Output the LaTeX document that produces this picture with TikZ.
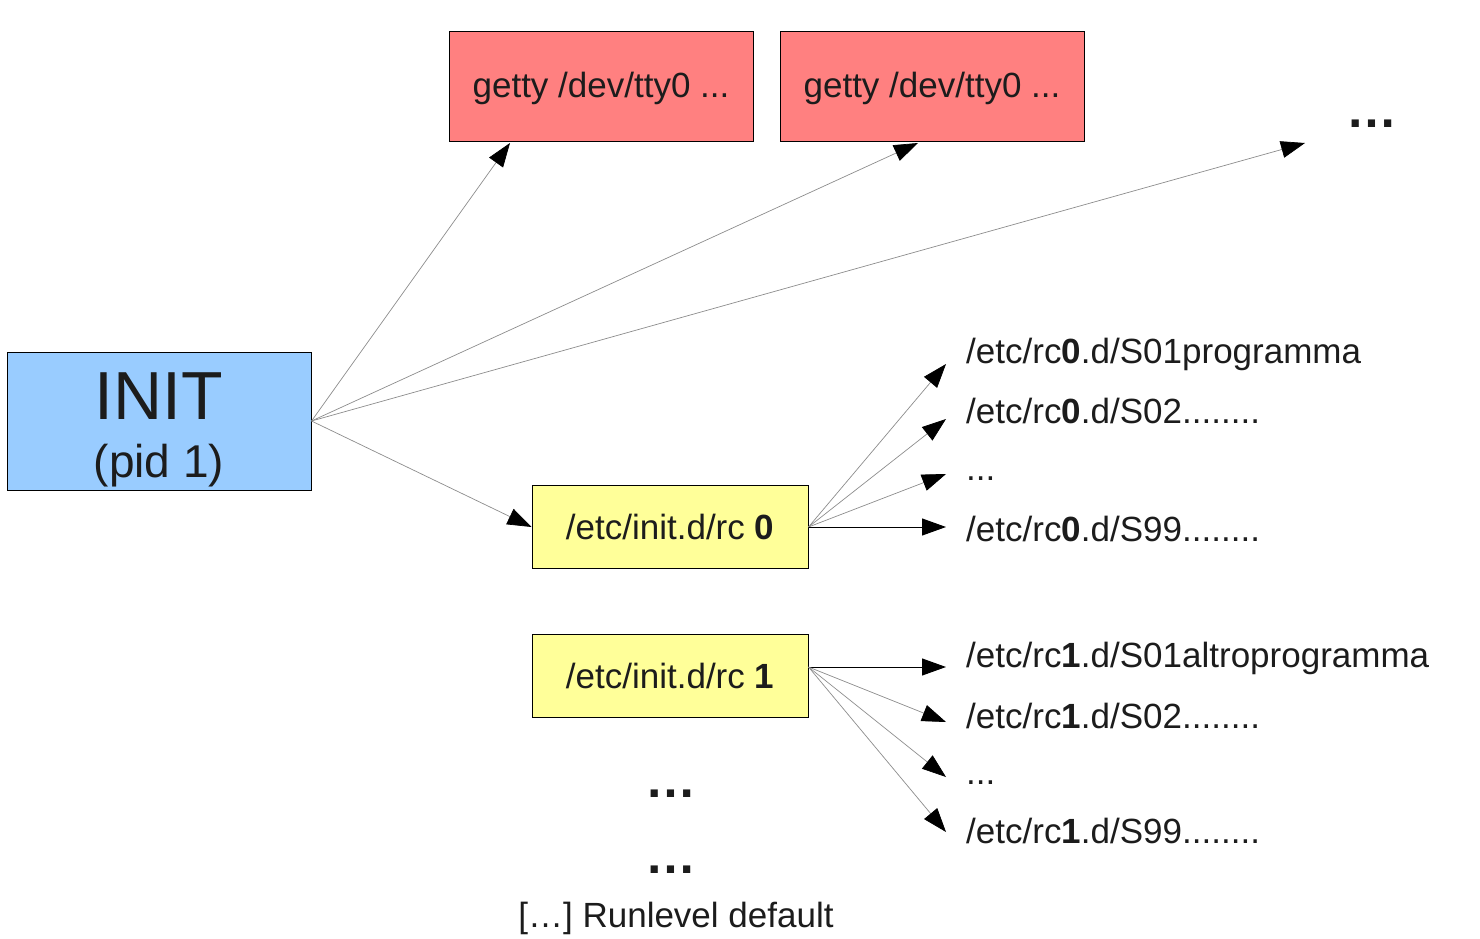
\documentclass[tikz,border=0pt]{standalone}
\usepackage{fontspec}
\setmainfont{Liberation Sans}
\usetikzlibrary{arrows.meta}

\definecolor{initblue}{HTML}{99CCFF}
\definecolor{gettyred}{HTML}{FF8080}
\definecolor{rcyellow}{HTML}{FFFF99}
\definecolor{inkgray}{HTML}{1C1C1C}
\definecolor{wiregray}{HTML}{8C8C8C}

\newcommand*{\txtsize}{\fontsize{35}{42}\selectfont}
\newcommand*{\rcitem}[4]{%
\coordinate (#1-tip) at (946, #3);
\node[listtext] (#1) at (966, #2) {#4};}

\tikzset{
  box/.style={draw=black, line width=1pt, text=inkgray, font=\txtsize, inner sep=0pt},
  gettybox/.style={box, fill=gettyred, minimum width=304pt, minimum height=110pt, text depth=4pt},
  rcbox/.style={box, fill=rcyellow, minimum width=276pt, minimum height=83pt},
  listtext/.style={anchor=base west, inner sep=0pt, text=inkgray, font=\txtsize},
  caption/.style={anchor=base, inner sep=0pt, text=inkgray, font=\txtsize},
  bigdots/.style={anchor=base, inner sep=0pt, text=inkgray, font=\fontsize{51}{60}\selectfont\bfseries},
  fan/.style={draw=wiregray, line width=0.7pt, -{Triangle[length=24pt, width=17pt, color=black, fill=black]}},
  feed/.style={draw=black, line width=1pt, -{Triangle[length=24pt, width=17pt]}},
}

\begin{document}
\begin{tikzpicture}[x=1pt, y=-1pt]
\useasboundingbox (0,0) rectangle (1480,939);

\node[box, fill=initblue, minimum width=304pt, minimum height=138pt] (init) at (159,421) {};
\node[caption, font=\fontsize{68}{70}\selectfont] (inittitle) at (159,419) {INIT};
\node[caption, font=\fontsize{46}{50}\selectfont] (initpid) at (159,477) {(pid 1)};

\node[gettybox] (getty1) at (601,87) {getty /dev/tty0 ...};
\node[gettybox] (getty2) at (932,87) {getty /dev/tty0 ...};
\node[bigdots] (moregetty) at (1372,128) {…};

\node[rcbox] (rc0) at (670,527) {/etc/init.d/rc \textbf{0}};
\node[rcbox] (rc1) at (670,676) {/etc/init.d/rc \textbf{1}};

\coordinate (getty1-tip) at (510,143);
\coordinate (getty2-tip) at (918,143);
\coordinate (moregetty-tip) at (1305,143);
\coordinate (rc1out) at ([yshift=9pt]rc1.east);

\rcitem{s01a}{363}{364}{/etc/rc\textbf{0}.d/S01programma}
\rcitem{s02a}{423}{419}{/etc/rc\textbf{0}.d/S02........}
\rcitem{dotsa}{480}{474}{...}
\rcitem{s99a}{541}{527}{/etc/rc\textbf{0}.d/S99........}

\rcitem{s01b}{667}{667}{/etc/rc\textbf{1}.d/S01altroprogramma}
\rcitem{s02b}{728}{722}{/etc/rc\textbf{1}.d/S02........}
\rcitem{dotsb}{784}{777}{...}
\rcitem{s99b}{843}{832}{/etc/rc\textbf{1}.d/S99........}

\foreach \t in {getty1, getty2, moregetty}
  \draw[fan] (init.east) -- (\t-tip);
\draw[fan] (init.east) -- (rc0.west);

\foreach \t in {s01a, s02a, dotsa}
  \draw[fan] (rc0.east) -- (\t-tip);
\draw[feed] (rc0.east) -- (s99a-tip);

\draw[feed] (rc1out) -- (s01b-tip);
\foreach \t in {s02b, dotsb, s99b}
  \draw[fan] (rc1out) -- (\t-tip);

\node[bigdots] (morerc1) at (671,797) {…};
\node[bigdots] (morerc2) at (671,873) {…};
\node[caption] (runlevel) at (676,927) {[…] Runlevel default};
\end{tikzpicture}
\end{document}
